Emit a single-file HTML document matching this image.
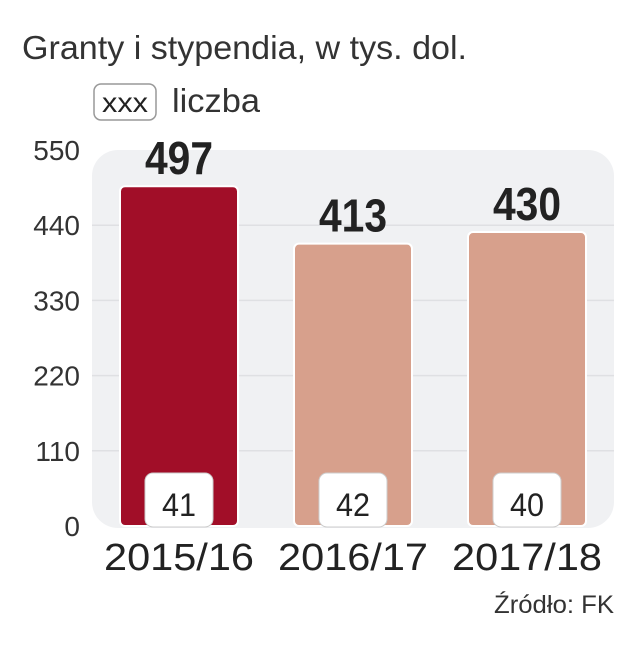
<!DOCTYPE html>
<html><head><meta charset="utf-8"><style>
body{margin:0;width:640px;height:640px;background:#fff;font-family:"Liberation Sans",sans-serif;overflow:hidden}
</style></head><body>
<svg width="640" height="640" id="svg">
<text x="22" y="59" font-size="33" fill="#333" textLength="445" lengthAdjust="spacingAndGlyphs">Granty i stypendia, w tys. dol.</text>
<rect x="94" y="84" width="62" height="36" rx="7" fill="#fff" stroke="#999" stroke-width="1.5"/>
<text x="125" y="112" font-size="28" fill="#222" text-anchor="middle" textLength="46" lengthAdjust="spacingAndGlyphs">xxx</text>
<text x="172" y="112" font-size="33" fill="#333" textLength="88" lengthAdjust="spacingAndGlyphs">liczba</text>
<rect x="92" y="150" width="522" height="378" rx="26" fill="#f0f1f3"/>
<g id="grid"></g><g id="bars"></g>
<text x="614" y="613" font-size="25" fill="#333" text-anchor="end" textLength="120" lengthAdjust="spacingAndGlyphs">Źródło: FK</text>
</svg>
<script>
const categories=["2015/16","2016/17","2017/18"];
const values=[497,413,430];
const counts=[41,42,40];
const ticks=[0,110,220,330,440,550];
const colors=["#a10e28","#d7a08c","#d7a08c"];
const NS="http://www.w3.org/2000/svg";
const y0=526,k=376/550;
const y=v=>y0-v*k;
const xc=i=>179+i*174;
function mk(t,a,p){const e=document.createElementNS(NS,t);for(const q in a)e.setAttribute(q,a[q]);p.appendChild(e);return e;}
const grid=document.getElementById('grid'),bars=document.getElementById('bars');
ticks.forEach(t=>{
 if(t>0&&t<550){const l=mk('line',{x1:92,x2:614,y1:y(t),y2:y(t),stroke:'#dfe0e3','stroke-width':1.5},grid);
 
 }
 const tx=mk('text',{x:80,y:y(t)+10,'font-size':28,fill:'#333','text-anchor':'end'},grid);tx.textContent=t;
 
 
});
values.forEach((v,i)=>{
 const b=mk('rect',{x:xc(i)-59,y:y(v),width:118,height:y0-y(v),rx:5,fill:colors[i],stroke:'#fff','stroke-width':2},bars);
 
 
 const vl=mk('text',{x:xc(i),y:y(v)-12,'font-size':46,'font-weight':'bold',fill:'#222','text-anchor':'middle',textLength:68,lengthAdjust:'spacingAndGlyphs'},bars);vl.textContent=v;
 
 
 const bx=mk('rect',{x:xc(i)-34,y:473,width:68,height:54,rx:8,fill:'#fff',stroke:'#ccc','stroke-width':1},bars);
 
 
 const ct=mk('text',{x:xc(i),y:516,'font-size':32,fill:'#222','text-anchor':'middle',textLength:34,lengthAdjust:'spacingAndGlyphs'},bars);ct.textContent=counts[i];
 
 
 const cl=mk('text',{x:xc(i),y:570,'font-size':38,fill:'#222','text-anchor':'middle',textLength:150,lengthAdjust:'spacingAndGlyphs'},bars);cl.textContent=categories[i];
 
 
});
</script>
</body></html>
